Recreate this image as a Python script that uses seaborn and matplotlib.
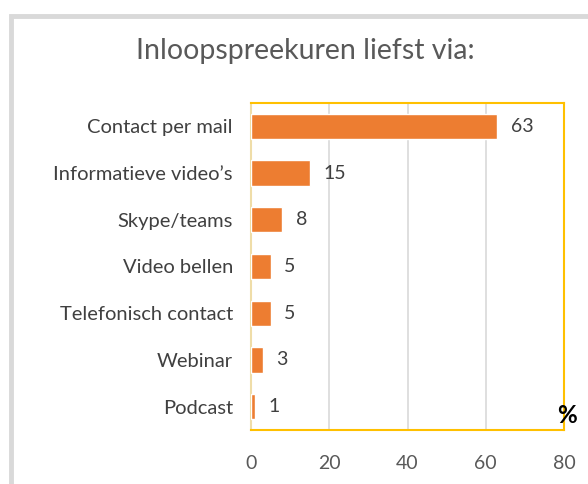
import seaborn as sns
import matplotlib.pyplot as plt
import matplotlib.patches as patches
import pandas as pd

# data
kanalen = ['Contact per mail', 'Informatieve video’s', 'Skype/teams', 'Video bellen',
           'Telefonisch contact', 'Webinar', 'Podcast']
percentages = [63, 15, 8, 5, 5, 3, 1]
x_ticks = [0, 20, 40, 60, 80]

df = pd.DataFrame({'kanaal': kanalen, 'pct': percentages})

sns.set_style('white')
plt.rcParams['font.family'] = ['Lato', 'DejaVu Sans']

fig = plt.figure(figsize=(5.88, 4.84), dpi=100)
ax = fig.add_axes([0.4269, 0.1116, 0.5323, 0.6756])

sns.barplot(data=df, x='pct', y='kanaal', color='#ED7D31', saturation=1,
            width=0.54, ax=ax, zorder=3)

ax.set_xlim(0, 80)
ax.set_xticks(x_ticks)
ax.set_xlabel('')
ax.set_ylabel('')
ax.grid(axis='x', color='#D9D9D9', linewidth=1.2, zorder=0)
ax.tick_params(axis='x', labelsize=14, colors='#595959', pad=18, length=0)
ax.tick_params(axis='y', labelsize=14.5, colors='#404040', pad=13, length=0)

for s in ['top', 'right', 'bottom']:
    ax.spines[s].set_color('#FFC000')
    ax.spines[s].set_linewidth(1.5)
ax.spines['left'].set_color('#EFDDA8')
ax.spines['left'].set_linewidth(1.5)

for i, v in enumerate(percentages):
    ax.text(v + 3.5, i, str(v), va='center', ha='left', fontsize=14, color='#404040')

ax.text(80.7, 6.2, '%', ha='center', va='center', fontsize=17.5, fontweight='bold',
        color='black', clip_on=False)

fig.suptitle('Inloopspreekuren liefst via:', x=0.52, y=0.922, fontsize=20.5, color='#595959')

# grey outer chart border
frame = patches.Rectangle((11 / 588, -0.1), 1.2, 1 - 15.5 / 484 + 0.1, transform=fig.transFigure,
                          fill=False, edgecolor='#D9D9D9', linewidth=3.5, clip_on=False)
fig.patches.append(frame)

fig.savefig('out.png', dpi=100)
